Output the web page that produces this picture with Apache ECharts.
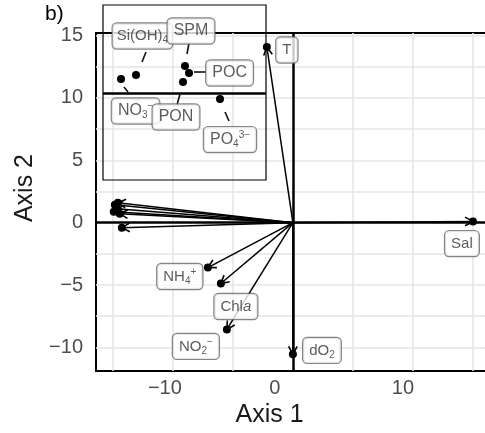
<!DOCTYPE html>
<html>
<head>
<meta charset="utf-8">
<script src="https://cdn.jsdelivr.net/npm/echarts@6/dist/echarts.min.js"></script>
<style>
  html, body { margin: 0; padding: 0; background: #fff; }
  #chart { width: 485px; height: 433px; }
</style>
</head>
<body>
<div id="chart"></div>
<script>
// arrow tips on the main biplot (Axis 1, Axis 2)
var varNames = ['Si(OH)4', 'SPM', 'POC', 'NO3', 'PON', 'PO4', 'T', 'Sal', 'dO2', 'NH4', 'Chla', 'NO2'];
var tipX = [-14.83, -14.58, -14.67, -14.92, -14.42, -14.25, -2.17, 15.0, 0.0, -7.08, -6.0, -5.5];
var tipY = [1.44, 1.6, 1.12, 0.88, 0.72, -0.4, 14.08, 0.1, -10.55, -3.6, -4.88, -8.56];

// labels drawn on the main panel
var mainLabels = ['T', 'Sal', 'dO{sub|2}', 'NH{sub|4}{sup|+}', 'Chl{it|a}', 'NO{sub|2}{sup|−}'];
var mainLabelX = [-0.5, 14.08, 2.42, -9.42, -4.75, -8.08];
var mainLabelY = [13.84, -1.68, -10.24, -4.32, -6.72, -9.92];

// zoomed inset (its own units)
var insetLabels = ['Si(OH){sub|4}', 'SPM', 'POC', 'NO{sub|3}{sup|−}', 'PON', 'PO{sub|4}{sup|3−}'];
var insetPtX = [1.65, 4.1, 4.3, 0.9, 4.0, 5.85];
var insetPtY = [0.9, 1.35, 1.0, 0.7, 0.55, -0.3];
var insetLabX = [1.97, 4.4, 6.33, 1.63, 3.65, 6.35];
var insetLabY = [2.85, 3.1, 1.0, -0.9, -1.2, -2.33];
var segX0 = [2.15, 4.3, 4.55, 1.05, 3.85, 6.1];
var segY0 = [2.05, 2.5, 1.05, 0.3, -0.05, -0.95];
var segX1 = [1.95, 4.2, 5.15, 1.25, 3.7, 6.3];
var segY1 = [1.55, 1.95, 1.05, 0.05, -0.6, -1.4];

// axes
var xTicks = [-10, 0, 10];
var yTicks = [-10, -5, 0, 5, 10, 15];
var xGridVals = [-15, -10, -5, 5, 10, 15];
var yGridVals = [-10, -7.5, -5, -2.5, 2.5, 5, 7.5, 10, 12.5, 15];

var font = 'Liberation Sans, Arial, Helvetica, sans-serif';
var tickGray = '#4d4d4d';
var labelGray = '#333';

var richSub = {
  sub: { fontSize: 10, lineHeight: 8, verticalAlign: 'bottom', color: labelGray, fontFamily: font },
  sup: { fontSize: 10, lineHeight: 8, verticalAlign: 'top', color: labelGray, fontFamily: font },
  it: { fontStyle: 'italic', fontSize: 15, lineHeight: 19, color: labelGray, fontFamily: font }
};

function boxLabel(size) {
  return {
    show: true,
    position: 'inside',
    fontFamily: font,
    fontSize: size,
    lineHeight: 19,
    color: labelGray,
    backgroundColor: '#fff',
    borderColor: '#666',
    borderWidth: 1.2,
    borderRadius: 4,
    padding: [3, 6],
    rich: richSub
  };
}

var chart = echarts.init(document.getElementById('chart'));

var gridMarks = [];
xGridVals.forEach(function (v) { gridMarks.push({ xAxis: v }); });
yGridVals.forEach(function (v) { gridMarks.push({ yAxis: v }); });

var insetLabelData = insetLabX.map(function (x, i) {
  var item = { value: [x, insetLabY[i]] };
  if (i === 0) item.label = { fontSize: 15, padding: [3, 4] };
  return item;
});

var option = {
  animation: false,
  title: {
    text: 'b)', left: 45, top: 4, padding: 0,
    textStyle: { fontSize: 21, fontWeight: 'normal', color: '#000', fontFamily: font }
  },
  grid: [
    { left: 96, top: 33, right: 0, bottom: 61 },
    { left: 103, top: 5, width: 163, height: 175, show: true, z: 2,
      backgroundColor: 'transparent', borderColor: '#000', borderWidth: 1.2 }
  ],
  xAxis: [
    {
      gridIndex: 0, type: 'value', min: -16.4, max: 16.0,
      name: 'Axis 1', nameLocation: 'middle', nameGap: 29,
      nameTextStyle: { fontSize: 25, color: '#1a1a1a', fontFamily: font, padding: [0, 42, 0, 0] },
      axisLine: { onZero: false, lineStyle: { color: '#000', width: 2 } },
      axisTick: { show: false },
      splitLine: { show: false },
      axisLabel: {
        customValues: xTicks, margin: 7, fontSize: 20, color: tickGray, fontFamily: font,
        formatter: function (v) {
          var s = (v < 0 ? '−' : '') + Math.abs(v);
          var k = v < 0 ? 'a' : (v === 0 ? 'b' : 'c');
          return '{' + k + '|' + s + '}';
        },
        rich: {
          a: { padding: [0, 16, 0, 0], fontSize: 20, color: tickGray, fontFamily: font },
          b: { padding: [0, 36, 0, 0], fontSize: 20, color: tickGray, fontFamily: font },
          c: { padding: [0, 20, 0, 0], fontSize: 20, color: tickGray, fontFamily: font }
        }
      }
    },
    {
      gridIndex: 0, type: 'value', min: -16.4, max: 16.0, position: 'top',
      axisLine: { onZero: false, lineStyle: { color: '#000', width: 2 } },
      axisTick: { show: false }, axisLabel: { show: false }, splitLine: { show: false }
    },
    { gridIndex: 1, type: 'value', min: 0, max: 8.15, show: false }
  ],
  yAxis: [
    {
      gridIndex: 0, type: 'value', min: -11.9, max: 15.2,
      name: 'Axis 2', nameLocation: 'middle', nameGap: 58,
      nameTextStyle: { fontSize: 25, color: '#1a1a1a', fontFamily: font, padding: [0, 0, 0, 28] },
      axisLine: { show: true, onZero: false, lineStyle: { color: '#000', width: 2 } },
      axisTick: { show: false },
      splitLine: { show: false },
      axisLabel: {
        customValues: yTicks, margin: 13, fontSize: 20, color: tickGray, fontFamily: font,
        formatter: function (v) { return (v < 0 ? '−' : '') + Math.abs(v); }
      }
    },
    { gridIndex: 1, type: 'value', min: -4.35, max: 4.4, show: false }
  ],
  series: [
    {
      // background grid
      type: 'scatter', xAxisIndex: 0, yAxisIndex: 0, data: [], silent: true,
      markLine: {
        z: 1, silent: true, symbol: ['none', 'none'], label: { show: false },
        lineStyle: { color: '#e6e6e6', width: 1.6, type: 'solid' },
        emphasis: { disabled: true },
        data: gridMarks
      }
    },
    {
      // zero lines
      type: 'scatter', xAxisIndex: 0, yAxisIndex: 0, data: [], silent: true,
      markLine: {
        z: 3, silent: true, symbol: ['none', 'none'], label: { show: false },
        lineStyle: { color: '#000', width: 2.5, type: 'solid' },
        emphasis: { disabled: true },
        data: [{ xAxis: 0 }, { yAxis: 0 }]
      }
    },
    {
      // arrows from the origin
      type: 'custom', xAxisIndex: 0, yAxisIndex: 0, z: 4, silent: true,
      data: tipX.map(function (x, i) { return [x, tipY[i]]; }),
      renderItem: function (params, api) {
        var o = api.coord([0, 0]);
        var t = api.coord([api.value(0), api.value(1)]);
        var a = Math.atan2(t[1] - o[1], t[0] - o[0]);
        var L = 9, w = 0.5;
        var h1 = [t[0] - L * Math.cos(a - w), t[1] - L * Math.sin(a - w)];
        var h2 = [t[0] - L * Math.cos(a + w), t[1] - L * Math.sin(a + w)];
        return {
          type: 'group',
          children: [
            { type: 'line', shape: { x1: o[0], y1: o[1], x2: t[0], y2: t[1] },
              style: { stroke: '#000', lineWidth: 1.5 } },
            { type: 'polyline', shape: { points: [h1, t, h2] },
              style: { stroke: '#000', lineWidth: 1.6, fill: null } }
          ]
        };
      }
    },
    {
      type: 'scatter', xAxisIndex: 0, yAxisIndex: 0, z: 5, silent: true,
      symbolSize: 8, itemStyle: { color: '#000', opacity: 1 },
      data: tipX.map(function (x, i) { return [x, tipY[i]]; })
    },
    {
      type: 'scatter', xAxisIndex: 0, yAxisIndex: 0, z: 6, silent: true,
      symbolSize: 0,
      label: Object.assign(boxLabel(15), {
        formatter: function (p) { return mainLabels[p.dataIndex]; }
      }),
      data: mainLabelX.map(function (x, i) { return [x, mainLabelY[i]]; })
    },
    {
      // inset: zero line and connectors
      type: 'custom', xAxisIndex: 2, yAxisIndex: 1, z: 4, silent: true,
      data: segX0.map(function (x, i) { return [x, segY0[i], segX1[i], segY1[i]]; }),
      renderItem: function (params, api) {
        var p0 = api.coord([api.value(0), api.value(1)]);
        var p1 = api.coord([api.value(2), api.value(3)]);
        return { type: 'line', shape: { x1: p0[0], y1: p0[1], x2: p1[0], y2: p1[1] },
          style: { stroke: '#111', lineWidth: 1.6 } };
      },
      markLine: {
        z: 3, silent: true, symbol: ['none', 'none'], label: { show: false },
        lineStyle: { color: '#000', width: 2.5, type: 'solid' },
        emphasis: { disabled: true },
        data: [{ yAxis: 0 }]
      }
    },
    {
      type: 'scatter', xAxisIndex: 2, yAxisIndex: 1, z: 5, silent: true,
      symbolSize: 8, itemStyle: { color: '#000', opacity: 1 },
      data: insetPtX.map(function (x, i) { return [x, insetPtY[i]]; })
    },
    {
      type: 'scatter', xAxisIndex: 2, yAxisIndex: 1, z: 6, silent: true,
      symbolSize: 0,
      label: Object.assign(boxLabel(16), {
        formatter: function (p) { return insetLabels[p.dataIndex]; }
      }),
      data: insetLabelData
    }
  ]
};

chart.setOption(option);
</script>
</body>
</html>
